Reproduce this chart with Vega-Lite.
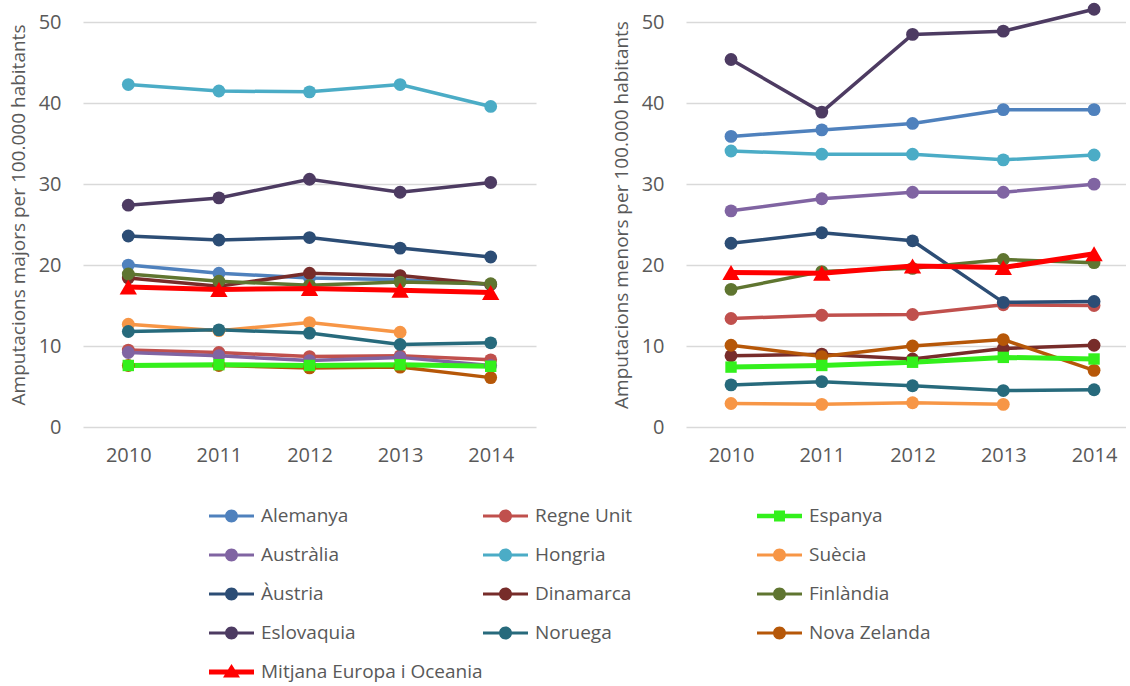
{
  "$schema": "https://vega.github.io/schema/vega-lite/v6.json",
  "padding": {"left": 9, "top": 2, "right": 0, "bottom": 4},
  "background": "white",
  "data": {"values": [
    {"tipus": "majors", "pais": "Alemanya", "any": 2010, "valor": 20.0},
    {"tipus": "majors", "pais": "Alemanya", "any": 2011, "valor": 19.0},
    {"tipus": "majors", "pais": "Alemanya", "any": 2012, "valor": 18.4},
    {"tipus": "majors", "pais": "Alemanya", "any": 2013, "valor": 18.2},
    {"tipus": "majors", "pais": "Alemanya", "any": 2014, "valor": 17.6},
    {"tipus": "majors", "pais": "Regne Unit", "any": 2010, "valor": 9.5},
    {"tipus": "majors", "pais": "Regne Unit", "any": 2011, "valor": 9.2},
    {"tipus": "majors", "pais": "Regne Unit", "any": 2012, "valor": 8.7},
    {"tipus": "majors", "pais": "Regne Unit", "any": 2013, "valor": 8.8},
    {"tipus": "majors", "pais": "Regne Unit", "any": 2014, "valor": 8.3},
    {"tipus": "majors", "pais": "Espanya", "any": 2010, "valor": 7.6},
    {"tipus": "majors", "pais": "Espanya", "any": 2011, "valor": 7.7},
    {"tipus": "majors", "pais": "Espanya", "any": 2012, "valor": 7.6},
    {"tipus": "majors", "pais": "Espanya", "any": 2013, "valor": 7.7},
    {"tipus": "majors", "pais": "Espanya", "any": 2014, "valor": 7.5},
    {"tipus": "majors", "pais": "Austràlia", "any": 2010, "valor": 9.2},
    {"tipus": "majors", "pais": "Austràlia", "any": 2011, "valor": 8.8},
    {"tipus": "majors", "pais": "Austràlia", "any": 2012, "valor": 8.2},
    {"tipus": "majors", "pais": "Austràlia", "any": 2013, "valor": 8.6},
    {"tipus": "majors", "pais": "Austràlia", "any": 2014, "valor": 7.6},
    {"tipus": "majors", "pais": "Hongria", "any": 2010, "valor": 42.3},
    {"tipus": "majors", "pais": "Hongria", "any": 2011, "valor": 41.5},
    {"tipus": "majors", "pais": "Hongria", "any": 2012, "valor": 41.4},
    {"tipus": "majors", "pais": "Hongria", "any": 2013, "valor": 42.3},
    {"tipus": "majors", "pais": "Hongria", "any": 2014, "valor": 39.6},
    {"tipus": "majors", "pais": "Suècia", "any": 2010, "valor": 12.7},
    {"tipus": "majors", "pais": "Suècia", "any": 2011, "valor": 11.9},
    {"tipus": "majors", "pais": "Suècia", "any": 2012, "valor": 12.9},
    {"tipus": "majors", "pais": "Suècia", "any": 2013, "valor": 11.7},
    {"tipus": "majors", "pais": "Àustria", "any": 2010, "valor": 23.6},
    {"tipus": "majors", "pais": "Àustria", "any": 2011, "valor": 23.1},
    {"tipus": "majors", "pais": "Àustria", "any": 2012, "valor": 23.4},
    {"tipus": "majors", "pais": "Àustria", "any": 2013, "valor": 22.1},
    {"tipus": "majors", "pais": "Àustria", "any": 2014, "valor": 21.0},
    {"tipus": "majors", "pais": "Dinamarca", "any": 2010, "valor": 18.4},
    {"tipus": "majors", "pais": "Dinamarca", "any": 2011, "valor": 17.4},
    {"tipus": "majors", "pais": "Dinamarca", "any": 2012, "valor": 19.0},
    {"tipus": "majors", "pais": "Dinamarca", "any": 2013, "valor": 18.7},
    {"tipus": "majors", "pais": "Dinamarca", "any": 2014, "valor": 17.6},
    {"tipus": "majors", "pais": "Finlàndia", "any": 2010, "valor": 18.9},
    {"tipus": "majors", "pais": "Finlàndia", "any": 2011, "valor": 18.0},
    {"tipus": "majors", "pais": "Finlàndia", "any": 2012, "valor": 17.5},
    {"tipus": "majors", "pais": "Finlàndia", "any": 2013, "valor": 17.9},
    {"tipus": "majors", "pais": "Finlàndia", "any": 2014, "valor": 17.7},
    {"tipus": "majors", "pais": "Eslovaquia", "any": 2010, "valor": 27.4},
    {"tipus": "majors", "pais": "Eslovaquia", "any": 2011, "valor": 28.3},
    {"tipus": "majors", "pais": "Eslovaquia", "any": 2012, "valor": 30.6},
    {"tipus": "majors", "pais": "Eslovaquia", "any": 2013, "valor": 29.0},
    {"tipus": "majors", "pais": "Eslovaquia", "any": 2014, "valor": 30.2},
    {"tipus": "majors", "pais": "Noruega", "any": 2010, "valor": 11.8},
    {"tipus": "majors", "pais": "Noruega", "any": 2011, "valor": 12.0},
    {"tipus": "majors", "pais": "Noruega", "any": 2012, "valor": 11.6},
    {"tipus": "majors", "pais": "Noruega", "any": 2013, "valor": 10.2},
    {"tipus": "majors", "pais": "Noruega", "any": 2014, "valor": 10.4},
    {"tipus": "majors", "pais": "Nova Zelanda", "any": 2010, "valor": 7.6},
    {"tipus": "majors", "pais": "Nova Zelanda", "any": 2011, "valor": 7.6},
    {"tipus": "majors", "pais": "Nova Zelanda", "any": 2012, "valor": 7.3},
    {"tipus": "majors", "pais": "Nova Zelanda", "any": 2013, "valor": 7.4},
    {"tipus": "majors", "pais": "Nova Zelanda", "any": 2014, "valor": 6.1},
    {"tipus": "majors", "pais": "Mitjana Europa i Oceania", "any": 2010, "valor": 17.3},
    {"tipus": "majors", "pais": "Mitjana Europa i Oceania", "any": 2011, "valor": 17.0},
    {"tipus": "majors", "pais": "Mitjana Europa i Oceania", "any": 2012, "valor": 17.1},
    {"tipus": "majors", "pais": "Mitjana Europa i Oceania", "any": 2013, "valor": 16.9},
    {"tipus": "majors", "pais": "Mitjana Europa i Oceania", "any": 2014, "valor": 16.6},
    {"tipus": "menors", "pais": "Alemanya", "any": 2010, "valor": 35.9},
    {"tipus": "menors", "pais": "Alemanya", "any": 2011, "valor": 36.7},
    {"tipus": "menors", "pais": "Alemanya", "any": 2012, "valor": 37.5},
    {"tipus": "menors", "pais": "Alemanya", "any": 2013, "valor": 39.2},
    {"tipus": "menors", "pais": "Alemanya", "any": 2014, "valor": 39.2},
    {"tipus": "menors", "pais": "Regne Unit", "any": 2010, "valor": 13.4},
    {"tipus": "menors", "pais": "Regne Unit", "any": 2011, "valor": 13.8},
    {"tipus": "menors", "pais": "Regne Unit", "any": 2012, "valor": 13.9},
    {"tipus": "menors", "pais": "Regne Unit", "any": 2013, "valor": 15.1},
    {"tipus": "menors", "pais": "Regne Unit", "any": 2014, "valor": 15.0},
    {"tipus": "menors", "pais": "Espanya", "any": 2010, "valor": 7.4},
    {"tipus": "menors", "pais": "Espanya", "any": 2011, "valor": 7.6},
    {"tipus": "menors", "pais": "Espanya", "any": 2012, "valor": 8.0},
    {"tipus": "menors", "pais": "Espanya", "any": 2013, "valor": 8.6},
    {"tipus": "menors", "pais": "Espanya", "any": 2014, "valor": 8.4},
    {"tipus": "menors", "pais": "Austràlia", "any": 2010, "valor": 26.7},
    {"tipus": "menors", "pais": "Austràlia", "any": 2011, "valor": 28.2},
    {"tipus": "menors", "pais": "Austràlia", "any": 2012, "valor": 29.0},
    {"tipus": "menors", "pais": "Austràlia", "any": 2013, "valor": 29.0},
    {"tipus": "menors", "pais": "Austràlia", "any": 2014, "valor": 30.0},
    {"tipus": "menors", "pais": "Hongria", "any": 2010, "valor": 34.1},
    {"tipus": "menors", "pais": "Hongria", "any": 2011, "valor": 33.7},
    {"tipus": "menors", "pais": "Hongria", "any": 2012, "valor": 33.7},
    {"tipus": "menors", "pais": "Hongria", "any": 2013, "valor": 33.0},
    {"tipus": "menors", "pais": "Hongria", "any": 2014, "valor": 33.6},
    {"tipus": "menors", "pais": "Suècia", "any": 2010, "valor": 2.9},
    {"tipus": "menors", "pais": "Suècia", "any": 2011, "valor": 2.8},
    {"tipus": "menors", "pais": "Suècia", "any": 2012, "valor": 3.0},
    {"tipus": "menors", "pais": "Suècia", "any": 2013, "valor": 2.8},
    {"tipus": "menors", "pais": "Àustria", "any": 2010, "valor": 22.7},
    {"tipus": "menors", "pais": "Àustria", "any": 2011, "valor": 24.0},
    {"tipus": "menors", "pais": "Àustria", "any": 2012, "valor": 23.0},
    {"tipus": "menors", "pais": "Àustria", "any": 2013, "valor": 15.4},
    {"tipus": "menors", "pais": "Àustria", "any": 2014, "valor": 15.5},
    {"tipus": "menors", "pais": "Dinamarca", "any": 2010, "valor": 8.8},
    {"tipus": "menors", "pais": "Dinamarca", "any": 2011, "valor": 9.0},
    {"tipus": "menors", "pais": "Dinamarca", "any": 2012, "valor": 8.4},
    {"tipus": "menors", "pais": "Dinamarca", "any": 2013, "valor": 9.7},
    {"tipus": "menors", "pais": "Dinamarca", "any": 2014, "valor": 10.1},
    {"tipus": "menors", "pais": "Finlàndia", "any": 2010, "valor": 17.0},
    {"tipus": "menors", "pais": "Finlàndia", "any": 2011, "valor": 19.2},
    {"tipus": "menors", "pais": "Finlàndia", "any": 2012, "valor": 19.6},
    {"tipus": "menors", "pais": "Finlàndia", "any": 2013, "valor": 20.7},
    {"tipus": "menors", "pais": "Finlàndia", "any": 2014, "valor": 20.3},
    {"tipus": "menors", "pais": "Eslovaquia", "any": 2010, "valor": 45.4},
    {"tipus": "menors", "pais": "Eslovaquia", "any": 2011, "valor": 38.9},
    {"tipus": "menors", "pais": "Eslovaquia", "any": 2012, "valor": 48.5},
    {"tipus": "menors", "pais": "Eslovaquia", "any": 2013, "valor": 48.9},
    {"tipus": "menors", "pais": "Eslovaquia", "any": 2014, "valor": 51.6},
    {"tipus": "menors", "pais": "Noruega", "any": 2010, "valor": 5.2},
    {"tipus": "menors", "pais": "Noruega", "any": 2011, "valor": 5.6},
    {"tipus": "menors", "pais": "Noruega", "any": 2012, "valor": 5.1},
    {"tipus": "menors", "pais": "Noruega", "any": 2013, "valor": 4.5},
    {"tipus": "menors", "pais": "Noruega", "any": 2014, "valor": 4.6},
    {"tipus": "menors", "pais": "Nova Zelanda", "any": 2010, "valor": 10.1},
    {"tipus": "menors", "pais": "Nova Zelanda", "any": 2011, "valor": 8.7},
    {"tipus": "menors", "pais": "Nova Zelanda", "any": 2012, "valor": 10.0},
    {"tipus": "menors", "pais": "Nova Zelanda", "any": 2013, "valor": 10.8},
    {"tipus": "menors", "pais": "Nova Zelanda", "any": 2014, "valor": 7.0},
    {"tipus": "menors", "pais": "Mitjana Europa i Oceania", "any": 2010, "valor": 19.1},
    {"tipus": "menors", "pais": "Mitjana Europa i Oceania", "any": 2011, "valor": 19.0},
    {"tipus": "menors", "pais": "Mitjana Europa i Oceania", "any": 2012, "valor": 19.9},
    {"tipus": "menors", "pais": "Mitjana Europa i Oceania", "any": 2013, "valor": 19.7},
    {"tipus": "menors", "pais": "Mitjana Europa i Oceania", "any": 2014, "valor": 21.4}
  ]},
  "config": {
    "view": {"stroke": null},
    "font": "Open Sans",
    "axis": {"labelColor": "#595959", "titleColor": "#595959", "labelFont": "Open Sans", "titleFont": "Open Sans", "titleFontWeight": "normal", "labelFontSize": 20, "titleFontSize": 19, "ticks": false, "domain": false, "gridColor": "#D9D9D9", "gridWidth": 1.3}
  },
  "spacing": 76,
  "resolve": {"scale": {"color": "shared"}},
  "hconcat": [
    {
      "width": 453,
      "height": 425,
      "transform": [{"filter": "datum.tipus === 'majors'"}],
      "encoding": {
        "x": {"field": "any", "type": "ordinal", "scale": {"padding": 0.5}, "axis": {"title": null, "labelAngle": 0, "labelPadding": 18, "grid": false}},
        "y": {"field": "valor", "type": "quantitative", "scale": {"domain": [0, 52.5], "nice": false}, "axis": {"title": "Amputacions majors per 100.000 habitants", "values": [0, 10, 20, 30, 40, 50], "labelPadding": 22, "titlePadding": 10, "grid": true}},
        "color": {"field": "pais", "type": "nominal",
          "scale": {"domain": ["Alemanya", "Regne Unit", "Espanya", "Austràlia", "Hongria", "Suècia", "Àustria", "Dinamarca", "Finlàndia", "Eslovaquia", "Noruega", "Nova Zelanda", "Mitjana Europa i Oceania"],
                    "range": ["#4F81BD", "#C0504D", "#33F01C", "#8064A2", "#4BACC6", "#F79646", "#2C4D75", "#772C2A", "#5F7530", "#4D3B62", "#276A7C", "#B65708", "#FF0000"]},
          "legend": {"title": null, "orient": "none", "legendX": 126, "legendY": 504, "direction": "horizontal", "columns": 3, "gridAlign": "all", "columnPadding": 0, "rowPadding": 19, "padding": 0, "symbolSize": 400, "symbolStrokeWidth": 0, "labelOffset": 32, "labelFontSize": 19, "labelColor": "#595959", "labelFont": "Open Sans", "labelLimit": 0, "symbolOpacity": 1,
            "encode": {"symbols": {"update": {
              "shape": {"signal": "datum.value === 'Espanya' ? 'M-1,-0.22H3.5V0.22H-1Z M0.7,-0.55H1.8V0.55H0.7Z' : datum.value === 'Mitjana Europa i Oceania' ? 'M-1,-0.25H3.5V0.25H-1Z M1.25,-0.8L2.1,0.55H0.4Z' : 'M-1,-0.16H3.5V0.16H-1Z M1.9,0A0.65,0.65 0 1 1 0.6,0A0.65,0.65 0 1 1 1.9,0Z'"},
              "fill": {"scale": "color", "field": "value"},
              "strokeWidth": {"value": 0},
              "opacity": {"value": 1}
            }}}
          }
        }
      },
      "layer": [
        {"transform": [{"filter": "datum.pais !== 'Espanya' && datum.pais !== 'Mitjana Europa i Oceania'"}], "mark": {"type": "line", "strokeWidth": 3.5}},
        {"transform": [{"filter": "datum.pais === 'Espanya'"}], "mark": {"type": "line", "strokeWidth": 5}},
        {"transform": [{"filter": "datum.pais !== 'Espanya' && datum.pais !== 'Mitjana Europa i Oceania'"}], "mark": {"type": "point", "shape": "circle", "filled": true, "opacity": 1, "size": 165}},
        {"transform": [{"filter": "datum.pais === 'Espanya'"}], "mark": {"type": "point", "shape": "square", "filled": true, "opacity": 1, "size": 130}},
        {"transform": [{"filter": "datum.pais === 'Mitjana Europa i Oceania'"}], "mark": {"type": "line", "strokeWidth": 5}},
        {"transform": [{"filter": "datum.pais === 'Mitjana Europa i Oceania'"}], "mark": {"type": "point", "shape": "triangle-up", "filled": true, "opacity": 1, "size": 300}}
      ]
    },
    {
      "width": 440,
      "height": 425,
      "transform": [{"filter": "datum.tipus === 'menors'"}],
      "encoding": {
        "x": {"field": "any", "type": "ordinal", "scale": {"padding": 0.424, "align": 0.585}, "axis": {"title": null, "labelAngle": 0, "labelPadding": 18, "grid": false}},
        "y": {"field": "valor", "type": "quantitative", "scale": {"domain": [0, 52.5], "nice": false}, "axis": {"title": "Amputacions menors per 100.000 habitants", "values": [0, 10, 20, 30, 40, 50], "labelPadding": 22, "titlePadding": 10, "grid": true}},
        "color": {"field": "pais", "type": "nominal"}
      },
      "layer": [
        {"transform": [{"filter": "datum.pais !== 'Espanya' && datum.pais !== 'Mitjana Europa i Oceania'"}], "mark": {"type": "line", "strokeWidth": 3.5}},
        {"transform": [{"filter": "datum.pais === 'Espanya'"}], "mark": {"type": "line", "strokeWidth": 5}},
        {"transform": [{"filter": "datum.pais !== 'Espanya' && datum.pais !== 'Mitjana Europa i Oceania'"}], "mark": {"type": "point", "shape": "circle", "filled": true, "opacity": 1, "size": 165}},
        {"transform": [{"filter": "datum.pais === 'Espanya'"}], "mark": {"type": "point", "shape": "square", "filled": true, "opacity": 1, "size": 130}},
        {"transform": [{"filter": "datum.pais === 'Mitjana Europa i Oceania'"}], "mark": {"type": "line", "strokeWidth": 5}},
        {"transform": [{"filter": "datum.pais === 'Mitjana Europa i Oceania'"}], "mark": {"type": "point", "shape": "triangle-up", "filled": true, "opacity": 1, "size": 300}}
      ]
    }
  ]
}
